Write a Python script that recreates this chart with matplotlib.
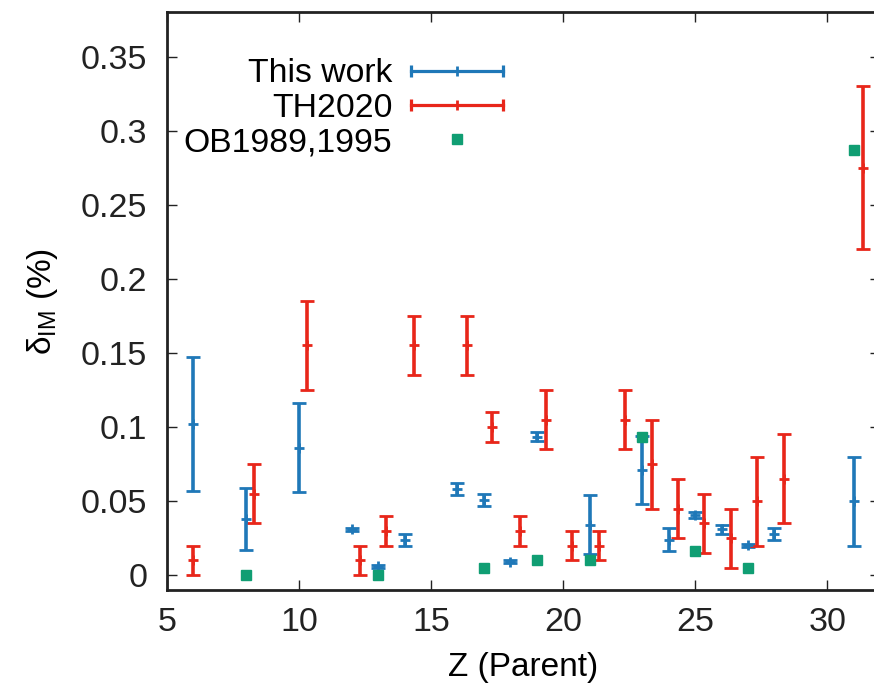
import matplotlib
matplotlib.use("Agg")
import matplotlib.pyplot as plt
from matplotlib.lines import Line2D
from matplotlib.legend_handler import HandlerBase
from matplotlib.ticker import FuncFormatter

plt.rcParams['font.family'] = ['Liberation Sans', 'DejaVu Sans']
plt.rcParams['mathtext.fontset'] = 'custom'
plt.rcParams['mathtext.rm'] = 'Liberation Sans'

# ---- data ----
this_z = [6, 8, 10, 12, 13, 14, 16, 17, 18, 19, 21, 23, 24, 25, 26, 27, 28, 31]
this_v = [0.102, 0.038, 0.086, 0.031, 0.006, 0.024, 0.058, 0.051, 0.009, 0.0935,
          0.034, 0.071, 0.024, 0.0405, 0.031, 0.0203, 0.028, 0.050]
this_e = [0.045, 0.021, 0.030, 0.001, 0.001, 0.004, 0.004, 0.004, 0.001, 0.003,
          0.020, 0.023, 0.008, 0.002, 0.003, 0.001, 0.004, 0.030]

th_z = [6, 8.3, 10.3, 12.3, 13.3, 14.35, 16.35, 17.3, 18.35, 19.35, 20.35, 21.35,
        22.35, 23.35, 24.35, 25.35, 26.35, 27.35, 28.35, 31.35]
th_v = [0.010, 0.055, 0.155, 0.010, 0.030, 0.155, 0.155, 0.100, 0.030, 0.105,
        0.020, 0.020, 0.105, 0.075, 0.045, 0.035, 0.025, 0.050, 0.065, 0.275]
th_e = [0.010, 0.020, 0.030, 0.010, 0.010, 0.020, 0.020, 0.010, 0.010, 0.020,
        0.010, 0.010, 0.020, 0.030, 0.020, 0.020, 0.020, 0.030, 0.030, 0.055]

ob_z = [8, 13, 17, 19, 21, 23, 25, 27, 31]
ob_v = [0.0, 0.0, 0.005, 0.010, 0.010, 0.0935, 0.0165, 0.005, 0.287]

labels = ["This work", "TH2020", "OB1989,1995"]
c_blue = '#1f78b8'
c_red = '#e8261a'
c_green = '#109e73'

xticks = [5, 10, 15, 20, 25, 30]
yticks = [0, 0.05, 0.1, 0.15, 0.2, 0.25, 0.3, 0.35]

fig = plt.figure(figsize=(8.74, 6.93), dpi=100)
ax = fig.add_axes([0.191, 0.1486, 0.816, 0.834])

ekw = dict(fmt='+', ms=7, mew=2, elinewidth=2.6, capsize=5, capthick=2.2)
ax.errorbar(this_z, this_v, yerr=this_e, color=c_blue, ecolor=c_blue, zorder=3, **ekw)
ax.errorbar(th_z, th_v, yerr=th_e, color=c_red, ecolor=c_red, zorder=3, **ekw)
ax.plot(ob_z, ob_v, ls='none', marker='s', ms=6.5, color=c_green, mec=c_green, zorder=4)

ax.set_xlim(5, 32)
ax.set_ylim(-0.01, 0.38)
ax.set_xticks(xticks)
ax.set_yticks(yticks)
ax.yaxis.set_major_formatter(FuncFormatter(lambda v, p: '%g' % round(v, 3)))
ax.tick_params(direction='in', length=7, width=1, top=True, right=True,
               labelsize=24.5, colors='#222222', pad=12)
ax.tick_params(axis='y', pad=14)
for s in ax.spines.values():
    s.set_linewidth(2)
    s.set_color('#222222')

ax.set_xlabel('Z (Parent)', fontsize=24, labelpad=10)
ax.set_ylabel(r'δ$_{\mathregular{IM}}$ (%)', fontsize=24, labelpad=15)


class HErr(HandlerBase):
    def create_artists(self, legend, orig_handle, xdescent, ydescent, width,
                       height, fontsize, trans):
        c = orig_handle.get_color()
        y = height / 2 - ydescent
        x0 = -xdescent
        x1 = -xdescent + width
        ln = Line2D([x0, x1], [y, y], color=c, lw=2.3)
        caps = Line2D([x0, x1], [y, y], ls='none', marker='|', ms=9, mew=2.3, color=c)
        mid = Line2D([(x0 + x1) / 2], [y], ls='none', marker='+', ms=7, mew=2, color=c)
        for a in (ln, caps, mid):
            a.set_transform(trans)
        return [ln, caps, mid]


h1 = Line2D([], [], color=c_blue)
h2 = Line2D([], [], color=c_red)
h3 = Line2D([], [], ls='none', marker='s', ms=6.5, color=c_green)
leg = ax.legend([h1, h2, h3], labels, handler_map={h1: HErr(), h2: HErr()},
                markerfirst=False, frameon=False, fontsize=24.3,
                loc='upper left', bbox_to_anchor=(0.0, 0.949),
                handlelength=2.73, handletextpad=0.56, labelspacing=0.1,
                borderpad=0)

fig.savefig('out.png', dpi=100)
